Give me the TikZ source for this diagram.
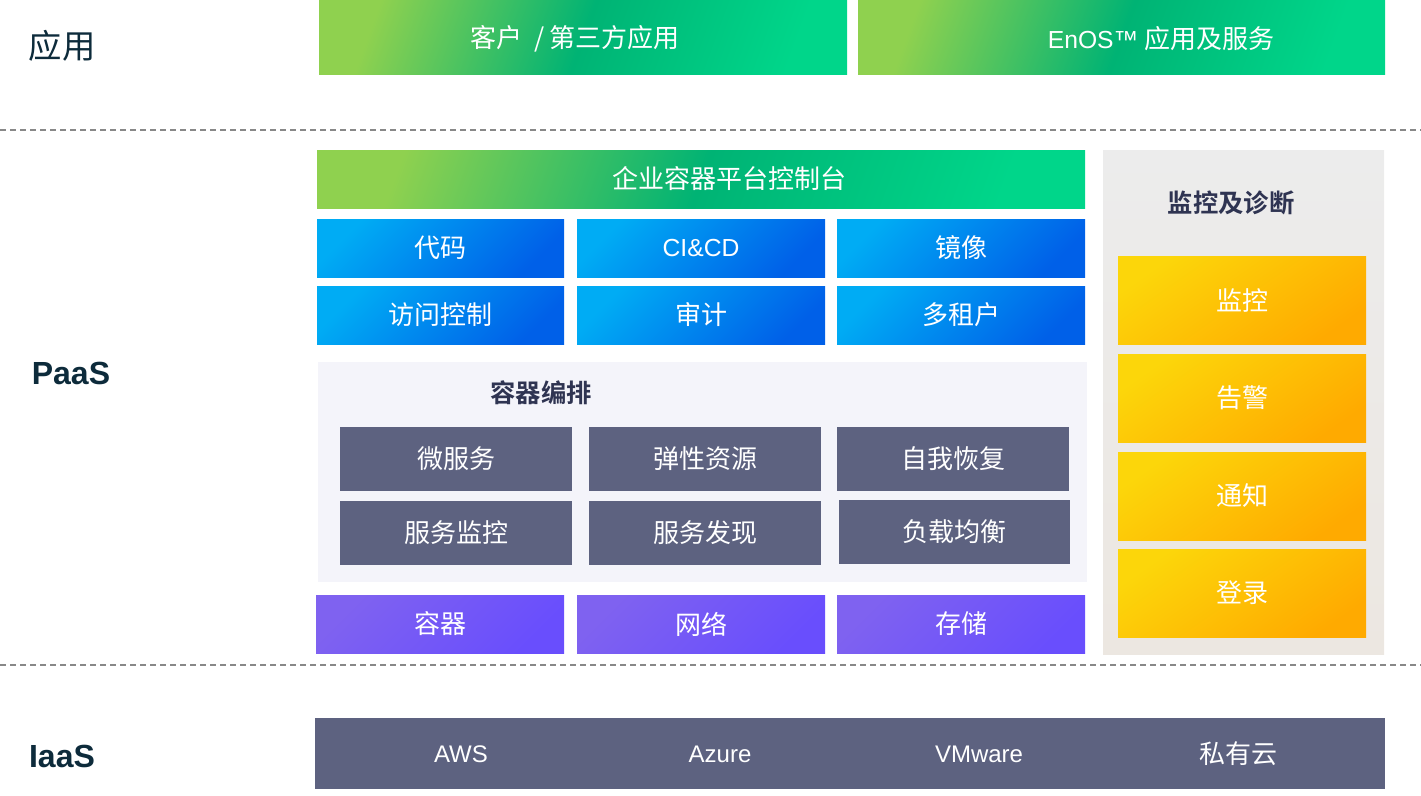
\documentclass[tikz,border=0pt]{standalone}
\usepackage{fontspec}
\setmainfont{Liberation Sans}
\newfontfamily\cjk{Noto Sans CJK SC}
\newfontfamily\cjkb{Noto Sans CJK SC Bold}
\definecolor{gA}{HTML}{8FD14F}
\definecolor{gB}{HTML}{00B374}
\definecolor{gC}{HTML}{00D68A}
\definecolor{bA}{HTML}{00ACF4}
\definecolor{bB}{HTML}{0060E8}
\definecolor{pA}{HTML}{7F62F0}
\definecolor{pB}{HTML}{694EFD}
\definecolor{yA}{HTML}{FCD60A}
\definecolor{yB}{HTML}{FFAA00}
\definecolor{slate}{HTML}{5D6280}
\definecolor{orchbg}{HTML}{F4F4FA}
\definecolor{monA}{HTML}{ECECEC}
\definecolor{monB}{HTML}{ECE7E1}
\definecolor{titlec}{HTML}{2F3452}
\definecolor{labc}{HTML}{0D2B3B}
\definecolor{dashc}{HTML}{888888}
\newcommand\bx[7]{\node[#6, minimum width={(#4-#2)*0.75pt}, minimum height={(#5-#3)*0.75pt}] (#1) at ({(#2+#4)/2},{(#3+#5)/2}) {#7};}
\tikzset{
  base/.style={inner sep=0pt, outer sep=0pt, draw=none, text=white, font=\fontsize{19.5}{21}\selectfont\cjk},
  greenbox/.style={base, top color=gA, bottom color=gC, middle color=gB, shading angle=70},
  bluebox/.style={base, top color=bA, bottom color=bB, shading angle=45},
  purplebox/.style={base, top color=pA, bottom color=pB, shading angle=45},
  yellowbox/.style={base, top color=yA, bottom color=yB, shading angle=35},
  slatebox/.style={base, fill=slate},
  orchpanel/.style={base, fill=orchbg},
  monpanel/.style={base, top color=monA, bottom color=monB},
  wtxt/.style={text=white, font=\fontsize{19.5}{21}\selectfont\cjk, inner sep=0pt},
  latin/.style={text=white, font=\fontsize{18.5}{20}\selectfont\rmfamily, inner sep=0pt},
  ttl/.style={text=titlec, font=\fontsize{19}{21}\selectfont\cjkb, inner sep=0pt},
  lab/.style={text=labc, inner sep=0pt},
  sepline/.style={draw=dashc, line width=1.5pt, dash pattern=on 4.5pt off 3pt}
}
\begin{document}
\begin{tikzpicture}[x=0.75pt,y=-0.75pt]
\useasboundingbox (0,0) rectangle (1421,796);
% layer labels
\node[lab, font=\fontsize{25}{27}\selectfont\cjk] (lapp) at (62,46) {应用};
\node[lab, font=\fontsize{24}{26}\selectfont\bfseries] (lpaas) at (71,373) {PaaS};
\node[lab, font=\fontsize{24}{26}\selectfont\bfseries] (liaas) at (62,756) {IaaS};
% separators
\coordinate (s1l) at (0,130); \coordinate (s1r) at (1421,130);
\coordinate (s2l) at (0,665); \coordinate (s2r) at (1421,665);
\draw[sepline] (s1l) -- (s1r);
\draw[sepline] (s2l) -- (s2r);
% application layer
\bx{app1}{319}{0}{847}{74}{greenbox}{}
\bx{app2}{858}{0}{1385}{74}{greenbox}{}
\node[wtxt] (app1t) at (575,39) {客户 \ /\,第三方应用};
\node[wtxt] (app2t) at (1161,39) {{\fontsize{18.5}{20}\rmfamily EnOS™} 应用及服务};
% console
\bx{cons}{317}{150}{1085}{208}{greenbox}{}
\node[wtxt] (const) at (729,179) {企业容器平台控制台};
% blue rows
\bx{b11}{317}{219}{564}{277}{bluebox}{代码}
\bx{b12}{577}{219}{825}{277}{bluebox}{}
\node[latin] (b12t) at (b12) {CI\&CD};
\bx{b13}{837}{219}{1085}{277}{bluebox}{镜像}
\bx{b21}{317}{286}{564}{344}{bluebox}{访问控制}
\bx{b22}{577}{286}{825}{344}{bluebox}{审计}
\bx{b23}{837}{286}{1085}{344}{bluebox}{多租户}
% orchestration
\bx{orch}{318}{362}{1087}{582}{orchpanel}{}
\node[ttl] (orcht) at (541,393) {容器编排};
\bx{o11}{340}{427}{572}{491}{slatebox}{微服务}
\bx{o12}{589}{427}{821}{491}{slatebox}{弹性资源}
\bx{o13}{837}{427}{1069}{491}{slatebox}{自我恢复}
\bx{o21}{340}{501}{572}{565}{slatebox}{服务监控}
\bx{o22}{589}{501}{821}{565}{slatebox}{服务发现}
\bx{o23}{839}{500}{1070}{564}{slatebox}{负载均衡}
% purple row
\bx{p1}{316}{595}{564}{653}{purplebox}{容器}
\bx{p2}{577}{595}{825}{653}{purplebox}{网络}
\bx{p3}{837}{595}{1085}{653}{purplebox}{存储}
% monitoring
\bx{mon}{1103}{150}{1384}{654}{monpanel}{}
\node[ttl] (mont) at (1231,203) {监控及诊断};
\bx{y1}{1118}{256}{1366}{344}{yellowbox}{监控}
\bx{y2}{1118}{354}{1366}{442}{yellowbox}{告警}
\bx{y3}{1118}{452}{1366}{540}{yellowbox}{通知}
\bx{y4}{1118}{549}{1366}{637}{yellowbox}{登录}
% IaaS
\bx{iaas}{315}{718}{1385}{789}{slatebox}{}
\node[latin, font=\fontsize{18}{20}\selectfont\rmfamily] (aws) at (461,754) {AWS};
\node[latin, font=\fontsize{18}{20}\selectfont\rmfamily] (azure) at (720,754) {Azure};
\node[latin, font=\fontsize{18}{20}\selectfont\rmfamily] (vmw) at (979,754) {VMware};
\node[wtxt] (priv) at (1238,754) {私有云};
\end{tikzpicture}
\end{document}
